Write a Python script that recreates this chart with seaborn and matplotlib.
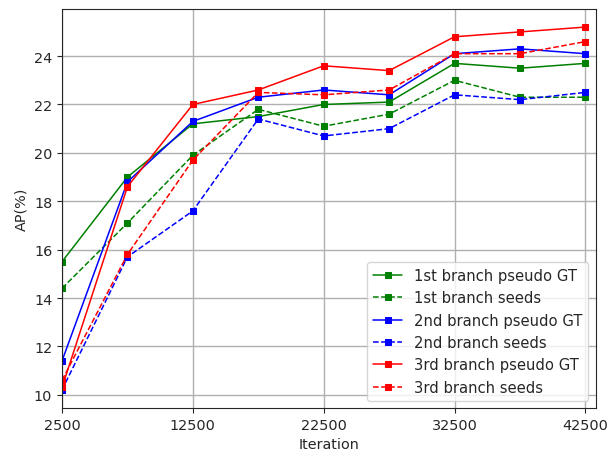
import numpy as np
import pandas as pd
import matplotlib
matplotlib.use("Agg")
import matplotlib.pyplot as plt
import seaborn as sns

iterations = [2500, 7500, 12500, 17500, 22500, 27500, 32500, 37500, 42500]

b1_gt = [15.5, 19.0, 21.2, 21.5, 22.0, 22.1, 23.7, 23.5, 23.7]
b1_seeds = [14.4, 17.1, 19.9, 21.8, 21.1, 21.6, 23.0, 22.3, 22.3]
b2_gt = [11.4, 18.8, 21.3, 22.3, 22.6, 22.4, 24.1, 24.3, 24.1]
b2_seeds = [10.2, 15.7, 17.6, 21.4, 20.7, 21.0, 22.4, 22.2, 22.5]
b3_gt = [10.3, 18.6, 22.0, 22.6, 23.6, 23.4, 24.8, 25.0, 25.2]
b3_seeds = [10.6, 15.8, 19.7, 22.5, 22.4, 22.6, 24.1, 24.1, 24.6]

labels = ["1st branch pseudo GT", "1st branch seeds",
          "2nd branch pseudo GT", "2nd branch seeds",
          "3rd branch pseudo GT", "3rd branch seeds"]
series = [b1_gt, b1_seeds, b2_gt, b2_seeds, b3_gt, b3_seeds]
colors = ["green", "green", "blue", "blue", "red", "red"]
styles = ["-", "--", "-", "--", "-", "--"]

sns.set_style("ticks")
plt.rcParams["font.family"] = ["DejaVu Sans"]
plt.rcParams["font.size"] = 10.4

fig, ax = plt.subplots(figsize=(6.08, 4.52), dpi=100)

for vals, lab, c, ls in zip(series, labels, colors, styles):
    sns.lineplot(x=iterations, y=vals, ax=ax, color=c, linestyle=ls, marker="s",
                 markersize=4.2, markeredgecolor=c, linewidth=1.1, label=lab)

ax.set_xticks([2500, 12500, 22500, 32500, 42500])
ax.set_yticks(np.arange(10, 25, 2))
ax.tick_params(labelsize=10.4)
ax.set_xlim(2500, 43300)
ax.grid(True, color="#b0b0b0", linewidth=1.0)
ax.set_xlabel("Iteration", fontsize=10.4)
ax.set_ylabel("AP(%)", fontsize=10.4)
ax.legend(loc="lower right", fontsize=10.6)

plt.subplots_adjust(left=0.102, right=0.98, top=0.978, bottom=0.095)
plt.savefig("out.png")
